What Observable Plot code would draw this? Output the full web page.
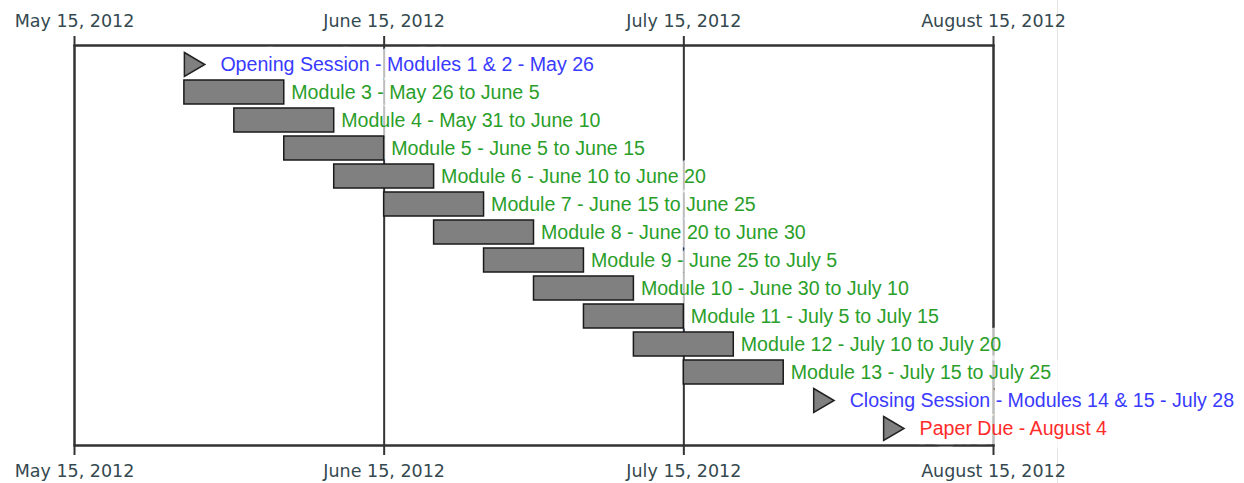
<!DOCTYPE html>
<html><head><meta charset="utf-8">
<script src="https://cdn.jsdelivr.net/npm/d3@7"></script>
<script src="https://cdn.jsdelivr.net/npm/@observablehq/plot@0.6"></script>
<style>
body{margin:0;background:#fff;}
#wrap{position:relative;width:1244px;height:483px;overflow:hidden;}
#edge{position:absolute;left:1057px;top:0;width:1px;height:483px;background:#e4e4e4;}
#chart{position:absolute;left:0;top:0;}
</style></head><body>
<div id="wrap"><div id="edge"></div><div id="chart"></div></div>
<script>
// ---- data ----
const taskLabels = [
  "Opening Session - Modules 1 & 2 - May 26",
  "Module 3 - May 26 to June 5",
  "Module 4 - May 31 to June 10",
  "Module 5 - June 5 to June 15",
  "Module 6 - June 10 to June 20",
  "Module 7 - June 15 to June 25",
  "Module 8 - June 20 to June 30",
  "Module 9 - June 25 to July 5",
  "Module 10 - June 30 to July 10",
  "Module 11 - July 5 to July 15",
  "Module 12 - July 10 to July 20",
  "Module 13 - July 15 to July 25",
  "Closing Session - Modules 14 & 15 - July 28",
  "Paper Due - August 4"
];
const startDates = ["2012-05-26","2012-05-26","2012-05-31","2012-06-05","2012-06-10","2012-06-15","2012-06-20","2012-06-25","2012-06-30","2012-07-05","2012-07-10","2012-07-15","2012-07-28","2012-08-04"];
const endDates   = [null,"2012-06-05","2012-06-10","2012-06-15","2012-06-20","2012-06-25","2012-06-30","2012-07-05","2012-07-10","2012-07-15","2012-07-20","2012-07-25",null,null];
const taskKinds  = ["session","module","module","module","module","module","module","module","module","module","module","module","session","due"];
const tickDates  = ["2012-05-15","2012-06-15","2012-07-15","2012-08-15"];
const xDomain    = ["2012-05-15","2012-08-15"];
const kindNames  = ["session","module","due"];
const kindColors = ["#3a3aff","#2a9e2a","#ff2b2b"];

// ---- build table ----
const parse = d3.utcParse("%Y-%m-%d");
const rows = taskLabels.map((label, i) => ({
  label, kind: taskKinds[i],
  start: parse(startDates[i]),
  end: endDates[i] ? parse(endDates[i]) : null
}));
const bars = rows.filter(d => d.end);
const milestones = rows.filter(d => !d.end);

const rightTriangle = {
  draw(ctx, size) {
    const r = Math.sqrt(size / Math.PI);
    ctx.moveTo(0, -r);
    ctx.lineTo(r * 1.7, 0);
    ctx.lineTo(0, r);
    ctx.closePath();
  }
};

const labelFont = {fontFamily: "Liberation Sans, Arial, sans-serif", fontSize: 19.6};
const haloStyle = {fill: "white", stroke: "white", strokeWidth: 19, strokeLinejoin: "round", opacity: 0.68};
const fmt = d3.utcFormat("%B %-d, %Y");
const ticks = tickDates.map(parse);
const axisFont = {fontFamily: "DejaVu Sans, Verdana, sans-serif", fontSize: 17.5};

const chart = Plot.plot({
  width: 1244,
  height: 483,
  marginLeft: 74,
  marginRight: 251,
  marginTop: 45,
  marginBottom: 38,
  style: {background: "transparent", color: "#34494f"},
  x: {type: "utc", domain: xDomain.map(parse)},
  y: {type: "band", domain: taskLabels, range: [50, 443], paddingInner: 0.14, paddingOuter: 0.07, axis: null},
  color: {type: "ordinal", domain: kindNames, range: kindColors},
  marks: [
    Plot.frame({stroke: "#333", strokeWidth: 2}),
    Plot.ruleX(ticks, {x: d => d, stroke: "#333", strokeWidth: 2}),
    Plot.text(bars, {x: "end", y: "label", text: "label", dx: 7, textAnchor: "start", ...labelFont, ...haloStyle}),
    Plot.text(milestones, {x: "start", y: "label", text: "label", dx: 36, textAnchor: "start", ...labelFont, ...haloStyle}),
    Plot.frame({anchor: "top", stroke: "#333", strokeWidth: 2}),
    Plot.frame({anchor: "bottom", stroke: "#333", strokeWidth: 2}),
    Plot.text(bars, {x: "end", y: "label", text: "label", dx: 7, textAnchor: "start", fill: "kind", ...labelFont}),
    Plot.text(milestones, {x: "start", y: "label", text: "label", dx: 36, textAnchor: "start", fill: "kind", ...labelFont}),
    Plot.barX(bars, {x1: "start", x2: "end", y: "label", fill: "#808080", stroke: "#1a1a1a", strokeWidth: 1.5}),
    Plot.dot(milestones, {x: "start", y: "label", symbol: rightTriangle, r: 12, fill: "#808080", stroke: "#222", strokeWidth: 1.5}),
    Plot.axisX({anchor: "top", ticks, tickFormat: fmt, tickSize: 10, tickPadding: 9, stroke: "#333", strokeWidth: 2, fill: "#34494f", ...axisFont, label: null}),
    Plot.axisX({anchor: "bottom", ticks, tickFormat: fmt, tickSize: 10, tickPadding: 9, stroke: "#333", strokeWidth: 2, fill: "#34494f", ...axisFont, label: null})
  ]
});
document.getElementById("chart").appendChild(chart);
</script>
</body></html>
